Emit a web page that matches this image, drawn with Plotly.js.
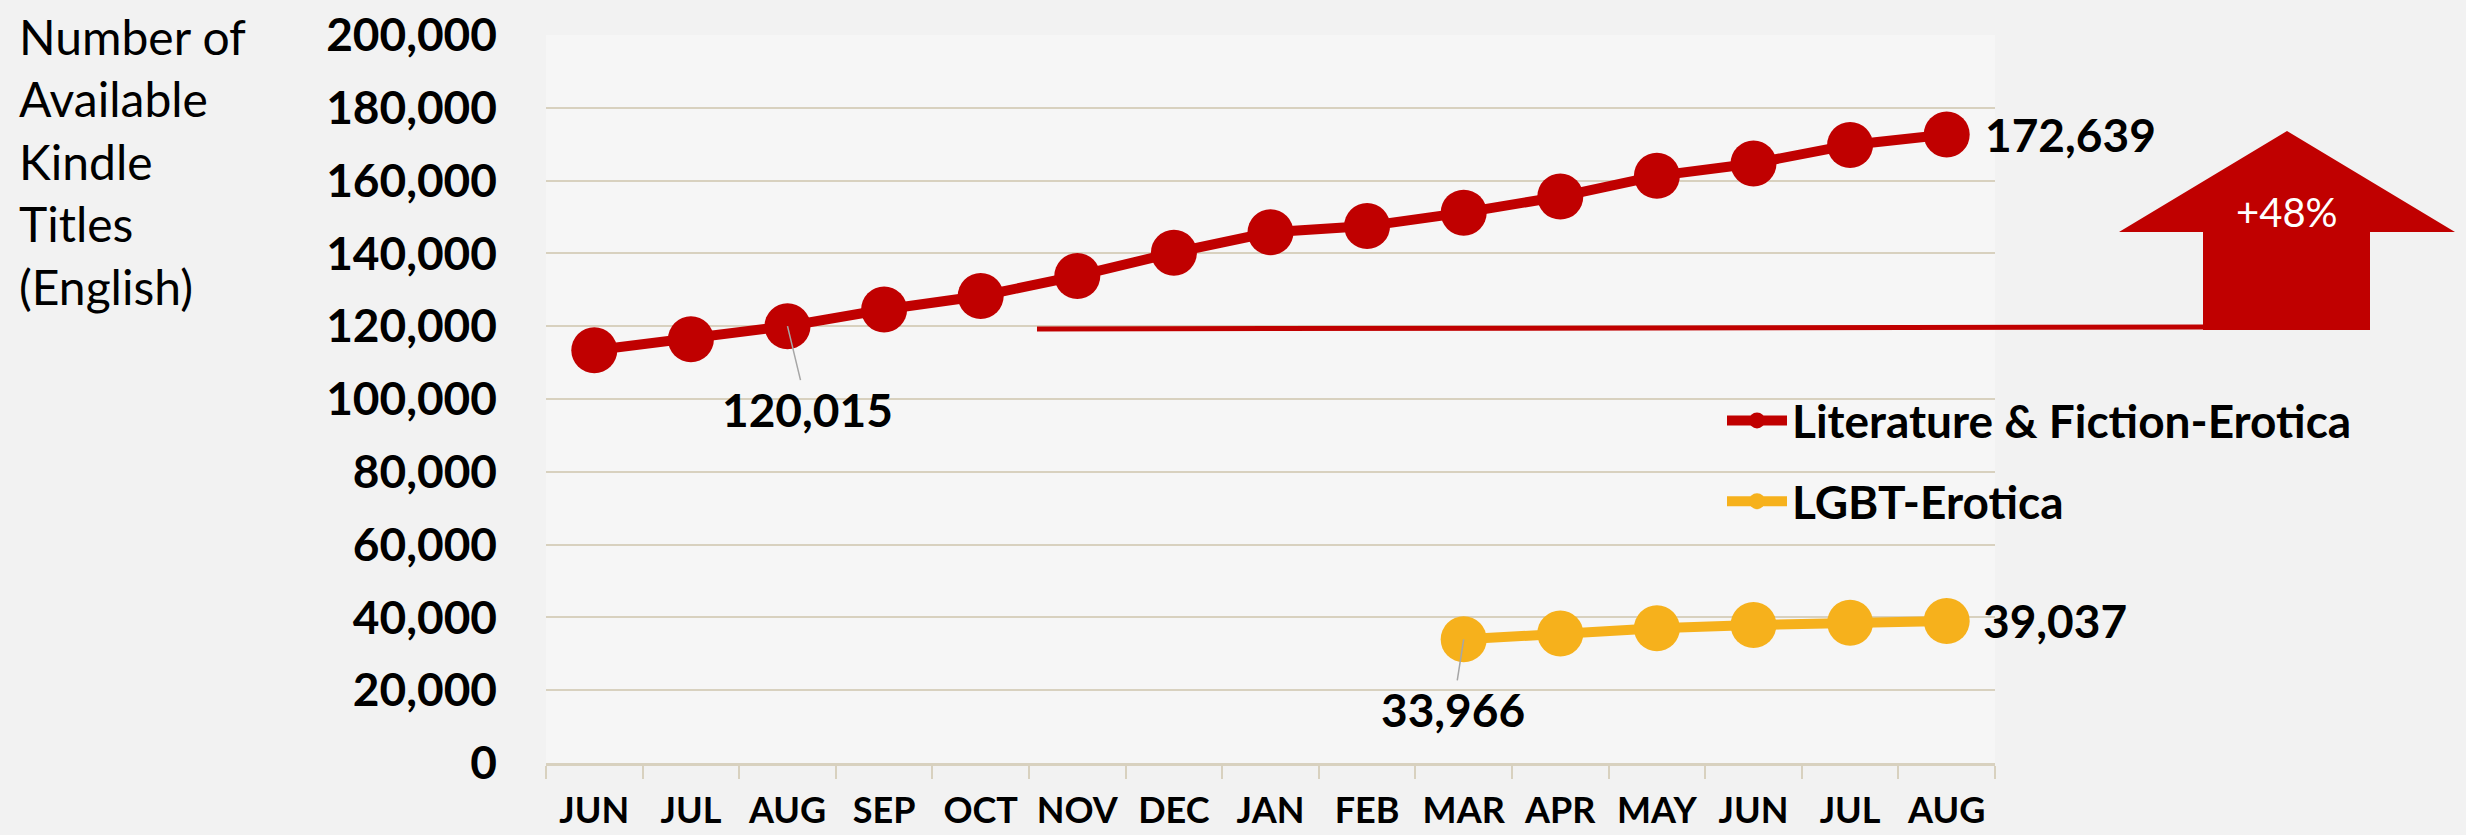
<!DOCTYPE html>
<html>
<head>
<meta charset="utf-8">
<script src="https://cdn.plot.ly/plotly-3.0.1.min.js"></script>
<style>html,body{margin:0;padding:0;background:#f2f2f2;}#chart{width:2466px;height:835px;}</style>
</head>
<body>
<div id="chart"></div>
<script>
// ---- data ----
const months = ['JUN','JUL','AUG','SEP','OCT','NOV','DEC','JAN','FEB','MAR','APR','MAY','JUN','JUL','AUG'];
const literatureErotica = [113400, 116400, 120015, 124600, 128300, 133800, 140200, 145800, 147500, 151200, 155600, 161300, 164700, 169800, 172639];
const lgbtErotica = [null, null, null, null, null, null, null, null, null, 33966, 35600, 37000, 37900, 38550, 39037];
const yTicks = [0, 20000, 40000, 60000, 80000, 100000, 120000, 140000, 160000, 180000, 200000];
const seriesNames = ['Literature & Fiction-Erotica', 'LGBT-Erotica'];
const growthLabel = '+48%';
const yTitleLines = ['Number of', 'Available', 'Kindle', 'Titles', '(English)'];

// ---- geometry ----
const W = 2466, H = 835;
const PL = 546, PR = 1995, PT = 35, PB = 763;
const px = v => (v - PL) / (PR - PL);
const py = v => (PB - v) / (PB - PT);

const xIdx = months.map((m, i) => i);
const RED = '#C00000', YEL = '#F6B11C';
const FONT = 'Lato, "Open Sans", sans-serif';
const GRID = '#d8d1bf';
const fmt = v => v.toLocaleString('en-US');

const traces = [
  {x: xIdx, y: literatureErotica, name: seriesNames[0], type: 'scatter', mode: 'lines+markers',
   line: {color: RED, width: 10}, marker: {color: RED, size: 46}, legendgroup: 'a'},
  {x: xIdx, y: lgbtErotica, name: seriesNames[1], type: 'scatter', mode: 'lines+markers',
   line: {color: YEL, width: 10}, marker: {color: YEL, size: 46}, legendgroup: 'b'}
];

const last = months.length - 1;
const firstLgbt = lgbtErotica.findIndex(v => v !== null);
const lastLgbt = lgbtErotica.length - 1;

const annotations = [
  {xref: 'paper', yref: 'paper', x: px(17), y: py(6), xanchor: 'left', yanchor: 'top', align: 'left',
   text: yTitleLines.join('<br>'), showarrow: false, font: {family: FONT, size: 48, color: '#000'}},
  {x: last, y: literatureErotica[last], xanchor: 'left', yanchor: 'middle', xshift: 36,
   text: '<b>' + fmt(literatureErotica[last]) + '</b>', showarrow: false, font: {family: FONT, size: 46, color: '#000'}},
  {x: lastLgbt, y: lgbtErotica[lastLgbt], xanchor: 'left', yanchor: 'middle', xshift: 34,
   text: '<b>' + fmt(lgbtErotica[lastLgbt]) + '</b>', showarrow: false, font: {family: FONT, size: 46, color: '#000'}},
  {x: 2, y: literatureErotica[2], ax: 20, ay: 83, showarrow: true, arrowhead: 0, arrowwidth: 1.5, arrowcolor: '#a6a6a6',
   text: '<b>' + fmt(literatureErotica[2]) + '</b>', font: {family: FONT, size: 46, color: '#000'}},
  {x: firstLgbt, y: lgbtErotica[firstLgbt], ax: -11, ay: 70, showarrow: true, arrowhead: 0, arrowwidth: 1.5, arrowcolor: '#a6a6a6',
   text: '<b>' + fmt(lgbtErotica[firstLgbt]) + '</b>', font: {family: FONT, size: 46, color: '#000'}},
  {xref: 'paper', yref: 'paper', x: px(2287), y: py(212), xanchor: 'center', yanchor: 'middle',
   text: growthLabel, showarrow: false, font: {family: FONT, size: 40, color: '#fff'}}
];

const arrowPath = 'M ' + [[2119,232],[2287,131],[2455,232],[2370,232],[2370,330],[2203,330],[2203,232]]
  .map(p => px(p[0]) + ',' + py(p[1])).join(' L ') + ' Z';

const shapes = [
  {type: 'line', xref: 'paper', yref: 'paper', x0: px(1037), y0: py(329), x1: px(2205), y1: py(327),
   line: {color: RED, width: 5}},
  {type: 'path', xref: 'paper', yref: 'paper', path: arrowPath, fillcolor: RED, line: {width: 0}}
];

const layout = {
  width: W, height: H,
  margin: {l: PL, r: W - PR, t: PT, b: H - PB, pad: 0},
  paper_bgcolor: '#f2f2f2', plot_bgcolor: '#f6f6f6',
  showlegend: true,
  legend: {x: px(1722), y: py(384), xanchor: 'left', yanchor: 'top', bgcolor: 'rgba(0,0,0,0)',
           font: {family: FONT, size: 46, color: '#000', weight: 'bold'}, itemwidth: 60,
           traceorder: 'grouped', tracegroupgap: 18},
  xaxis: {type: 'linear', range: [-0.5, months.length - 0.5], tickvals: xIdx, ticktext: months.map(m => '<b>' + m + '</b>'),
          ticks: '', showgrid: false, zeroline: false, showline: true, linecolor: GRID, linewidth: 3,
          tickfont: {family: FONT, size: 36, color: '#000'}, ticklabelstandoff: 14,
          minor: {tickmode: 'linear', tick0: -0.5, dtick: 1, ticks: 'outside', ticklen: 13, tickcolor: GRID, tickwidth: 2, showgrid: false},
          fixedrange: true},
  yaxis: {range: [0, 200000], tickvals: yTicks, ticktext: yTicks.map(v => '<b>' + fmt(v) + '</b>'),
          showgrid: true, gridcolor: GRID, gridwidth: 2, zeroline: false, showline: false, ticks: '',
          tickfont: {family: FONT, size: 46, color: '#000'}, ticklabelstandoff: 48, fixedrange: true},
  annotations: annotations,
  shapes: shapes,
  font: {family: FONT}
};

Plotly.newPlot('chart', traces, layout, {displayModeBar: false, staticPlot: true});
</script>
</body>
</html>
